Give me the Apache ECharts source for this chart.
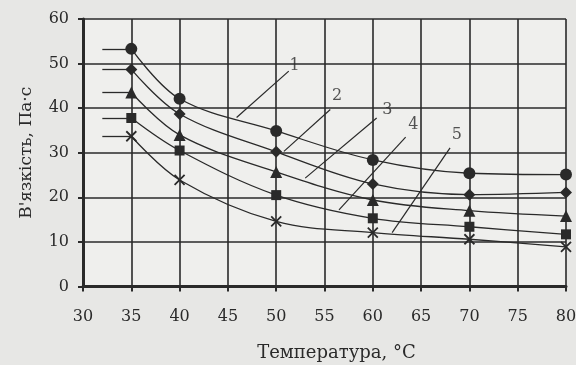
<!DOCTYPE html>
<html>
<head>
<meta charset="utf-8">
<script src="https://cdn.jsdelivr.net/npm/echarts@6/dist/echarts.min.js"></script>
<style>
html,body{margin:0;padding:0;background:#e7e7e5;}
#c{width:576px;height:365px;}
</style>
</head>
<body>
<div id="c"></div>
<script>
var temps = [35, 40, 50, 60, 70, 80];
var series1 = [53.3, 42.1, 34.9, 28.4, 25.4, 25.1];
var series2 = [48.7, 38.7, 30.2, 23.0, 20.6, 21.1];
var series3 = [43.5, 34.0, 25.7, 19.4, 17.0, 15.8];
var series4 = [37.8, 30.5, 20.5, 15.3, 13.4, 11.7];
var series5 = [33.7, 23.9, 14.6, 12.1, 10.6, 8.9];
var curveNames = ['1', '2', '3', '4', '5'];
var xTicks = [30, 35, 40, 45, 50, 55, 60, 65, 70, 75, 80];
var yTicks = [0, 10, 20, 30, 40, 50, 60];

// leader lines for the curve numbers: [start point on curve, end point near label]
var leaders = [
  [[45.9, 37.9], [51.3, 48.3]],
  [[50.8, 30.3], [55.6, 39.7]],
  [[53.0, 24.3], [60.4, 37.8]],
  [[56.5, 17.2], [63.4, 33.5]],
  [[62.0, 12.1], [68.0, 31.1]]
];
var labelPos = [[51.9, 49.4], [56.3, 42.8], [61.5, 39.7], [64.2, 36.3], [68.7, 34.0]];

var ink = '#2a2a2a';
var font = '"DejaVu Serif", "Liberation Serif", serif';
var xMarker = 'path://M0,0 L10,10 M10,0 L0,10';

function mk(name, vals, symbol, size) {
  var pts = temps.map(function (t, i) { return [t, vals[i]]; });
  return {
    name: name,
    type: 'line',
    data: pts,
    smooth: 0.35,
    symbol: symbol,
    symbolSize: size,
    showSymbol: true,
    lineStyle: { color: ink, width: 1.3 },
    itemStyle: symbol === xMarker
      ? { color: 'rgba(0,0,0,0)', borderColor: ink, borderWidth: 1.8 }
      : { color: ink, borderWidth: 0 },
    z: 3,
    markLine: {
      silent: true,
      symbol: ['none', 'none'],
      label: { show: false },
      lineStyle: { color: ink, width: 1.3, type: 'solid' },
      data: [[{ coord: [32, vals[0]] }, { coord: [35, vals[0]] }]]
    }
  };
}

var chart = echarts.init(document.getElementById('c'), null, { renderer: 'canvas' });

var leaderSeries = {
  type: 'line',
  data: [],
  markLine: {
    silent: true,
    symbol: ['none', 'none'],
    label: { show: false },
    lineStyle: { color: ink, width: 1.2, type: 'solid' },
    data: leaders.map(function (l) { return [{ coord: l[0] }, { coord: l[1] }]; })
  }
};

var labelSeries = {
  type: 'scatter',
  symbolSize: 0,
  data: labelPos.map(function (p, i) { return { value: p, name: curveNames[i] }; }),
  label: {
    show: true,
    position: 'inside',
    formatter: function (p) { return p.name; },
    color: ink,
    fontFamily: font,
    fontSize: 16
  },
  z: 5
};

chart.setOption({
  backgroundColor: '#e7e7e5',
  animation: false,
  grid: {
    left: 83, right: 10, top: 19, bottom: 78.5,
    containLabel: false, outerBoundsMode: 'none',
    show: true, backgroundColor: '#efefed', borderWidth: 0
  },
  xAxis: {
    type: 'value',
    min: xTicks[0],
    max: xTicks[xTicks.length - 1],
    interval: 5,
    name: 'Температура, °С',
    nameLocation: 'middle',
    nameGap: 58,
    nameTextStyle: { color: ink, fontFamily: font, fontSize: 18, padding: [0, 0, 0, 24] },
    axisLine: { show: true, onZero: false, lineStyle: { color: ink, width: 3 } },
    axisTick: { show: true, length: 5, lineStyle: { color: ink, width: 2 } },
    axisLabel: { color: ink, fontFamily: font, fontSize: 16, margin: 22 },
    splitLine: { show: true, lineStyle: { color: ink, width: 1.6 } }
  },
  yAxis: {
    type: 'value',
    min: yTicks[0],
    max: yTicks[yTicks.length - 1],
    interval: 10,
    name: "В'язкість, Па·с",
    nameLocation: 'middle',
    nameGap: 48,
    nameTextStyle: { color: ink, fontFamily: font, fontSize: 17, padding: [0, 0, 0, 0] },
    axisLine: { show: true, onZero: false, lineStyle: { color: ink, width: 3 } },
    axisTick: { show: true, length: 5, lineStyle: { color: ink, width: 2 } },
    axisLabel: { color: ink, fontFamily: font, fontSize: 16, margin: 14 },
    splitLine: { show: true, lineStyle: { color: ink, width: 1.6 } }
  },
  series: [
    mk(curveNames[0], series1, 'circle', 12),
    mk(curveNames[1], series2, 'diamond', 12),
    mk(curveNames[2], series3, 'triangle', 12),
    mk(curveNames[3], series4, 'rect', 10),
    mk(curveNames[4], series5, xMarker, 10),
    leaderSeries,
    labelSeries
  ]
});
</script>
</body>
</html>
